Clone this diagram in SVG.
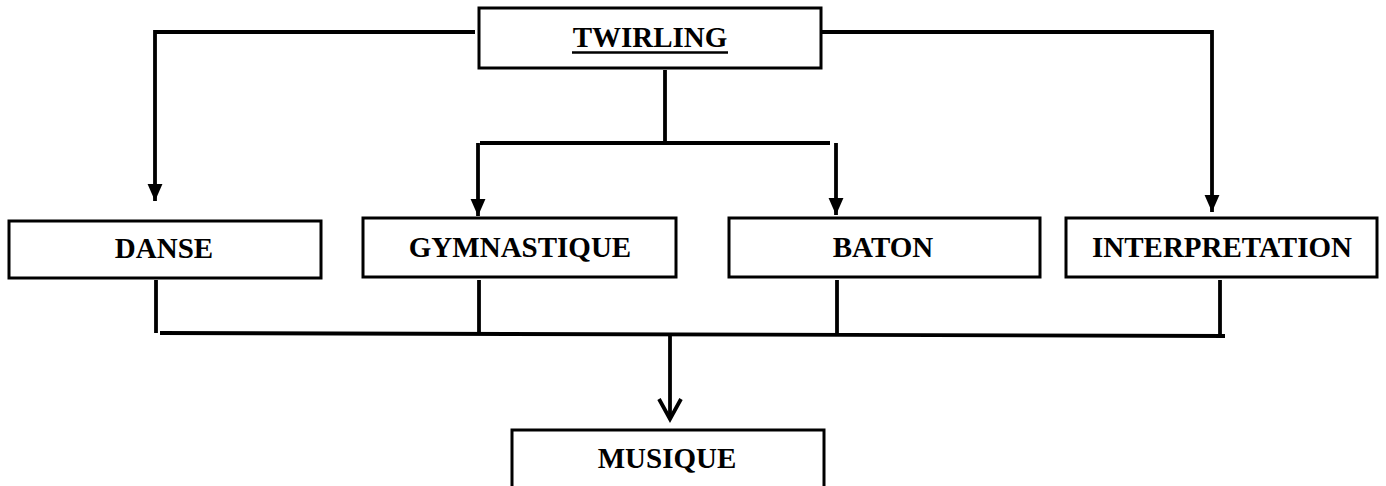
<svg xmlns="http://www.w3.org/2000/svg" width="1386" height="486" viewBox="0 0 1386 486">
<style>
.box{fill:#fff;stroke:#000;stroke-width:3}
.lbl{font-family:"Liberation Serif","Times New Roman",serif;font-weight:bold;font-size:29px;fill:#000;text-anchor:middle}
.c{fill:none;stroke:#000;stroke-width:3.8}
</style>
<defs>
<marker id="ah" markerUnits="userSpaceOnUse" markerWidth="18" markerHeight="18" viewBox="-16 -8 17 16" refX="0" refY="0" orient="auto">
<path d="M0 0 L-16 -7 L-16 7 Z" fill="#000"/>
</marker>
<marker id="vh" markerUnits="userSpaceOnUse" markerWidth="30" markerHeight="30" viewBox="-24 -15 30 30" refX="0" refY="0" orient="auto">
<path d="M-20 -11 L0 0 L-20 11" fill="none" stroke="#000" stroke-width="3.8"/>
</marker>
</defs>
<g id="connectors">
<path class="c" d="M475 32 H155 V201" marker-end="url(#ah)"/>
<path class="c" d="M821 32 H1212 V212" marker-end="url(#ah)"/>
<path class="c" d="M665 70 V143"/>
<path class="c" d="M480 143 H830"/>
<path class="c" d="M478 143 V216" marker-end="url(#ah)"/>
<path class="c" d="M836 143 V215" marker-end="url(#ah)"/>
<path class="c" d="M156 280 V333"/>
<path class="c" d="M479 280 V333"/>
<path class="c" d="M837 280 V333"/>
<path class="c" d="M1220 280 V334"/>
<path class="c" d="M160 333 L1225 336"/>
<path class="c" d="M670 335 V419" marker-end="url(#vh)"/>
</g>
<g id="twirling">
<rect class="box" x="479" y="8" width="342" height="60"/>
<text class="lbl" x="650" y="47">TWIRLING</text>
<line x1="572" y1="52.5" x2="728" y2="52.5" stroke="#000" stroke-width="2.5"/>
</g>
<g id="danse">
<rect class="box" x="9" y="221" width="312" height="57"/>
<text class="lbl" x="164" y="258">DANSE</text>
</g>
<g id="gymnastique">
<rect class="box" x="363" y="218" width="313" height="59"/>
<text class="lbl" x="520" y="257">GYMNASTIQUE</text>
</g>
<g id="baton">
<rect class="box" x="729" y="218" width="311" height="59"/>
<text class="lbl" x="883" y="257">BATON</text>
</g>
<g id="interpretation">
<rect class="box" x="1066" y="218" width="311" height="59"/>
<text class="lbl" x="1222" y="257">INTERPRETATION</text>
</g>
<g id="musique">
<rect class="box" x="512" y="430" width="312" height="70"/>
<text class="lbl" x="667" y="468">MUSIQUE</text>
</g>
</svg>
